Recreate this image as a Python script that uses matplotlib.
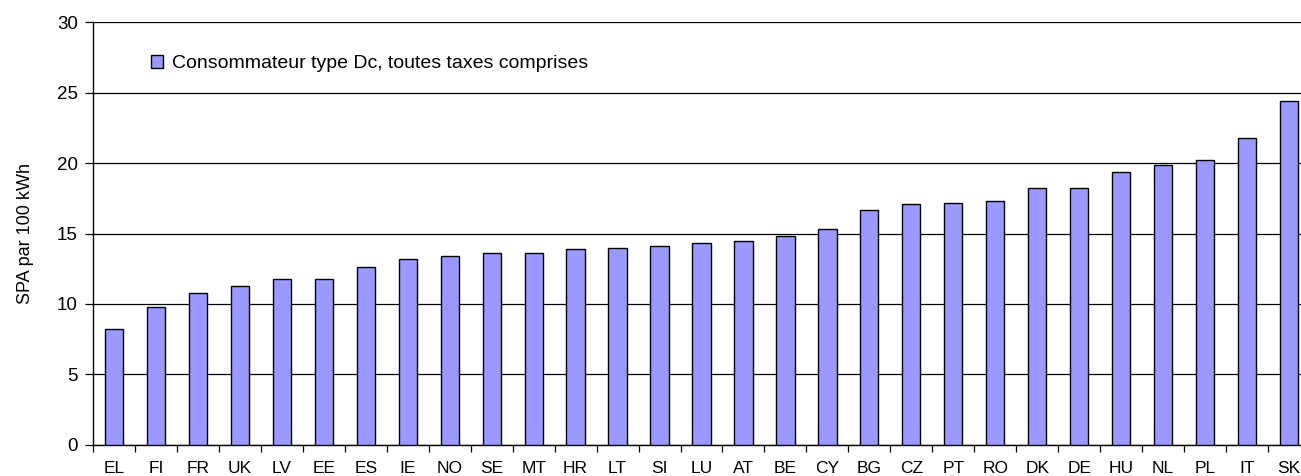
import matplotlib
matplotlib.use("Agg")
import matplotlib.pyplot as plt
import numpy as np

plt.rcParams['font.family'] = ['Liberation Sans', 'DejaVu Sans']

countries = ["EL", "FI", "FR", "UK", "LV", "EE", "ES", "IE", "NO", "SE", "MT", "HR", "LT", "SI",
             "LU", "AT", "BE", "CY", "BG", "CZ", "PT", "RO", "DK", "DE", "HU", "NL", "PL", "IT", "SK"]
values = [8.2, 9.8, 10.8, 11.3, 11.8, 11.8, 12.6, 13.2, 13.4, 13.6, 13.6, 13.9, 14.0, 14.1,
          14.3, 14.5, 14.8, 15.3, 16.7, 17.1, 17.2, 17.3, 18.2, 18.2, 19.4, 19.9, 20.2, 21.8, 24.4]
series_label = "Consommateur type Dc, toutes taxes comprises"
y_label = "SPA par 100 kWh"
y_ticks = [0, 5, 10, 15, 20, 25, 30]

W, H = 1301, 476
fig = plt.figure(figsize=(W / 100, H / 100), dpi=100)
ax = fig.add_axes([93 / W, 31.3 / H, 1217 / W, 422.4 / H])

x = np.arange(len(countries))
ax.bar(x, values, width=0.435, color="#9999ff", edgecolor="black", linewidth=1.0,
       label=series_label, zorder=3)

ax.set_xlim(-0.5, len(countries) - 0.5)
ax.set_ylim(0, 30)
ax.set_yticks(y_ticks)
ax.set_yticklabels([str(t) for t in y_ticks], fontsize=13.5)
ax.yaxis.grid(True, color="black", linewidth=0.9, zorder=0)
ax.set_axisbelow(True)

ax.set_xticks(x)
ax.set_xticklabels(countries, fontsize=12.5)
ax.tick_params(axis="x", length=0, pad=12)
ax.set_xticks(np.arange(len(countries) + 1) - 0.5, minor=True)
ax.tick_params(axis="x", which="minor", length=5, width=0.9, direction="out")
ax.tick_params(axis="y", length=6, width=0.9, direction="out", pad=5)

for s in ["top", "right"]:
    ax.spines[s].set_visible(False)
ax.spines["left"].set_linewidth(1.0)
ax.spines["bottom"].set_linewidth(1.0)

ax.set_ylabel(y_label, fontsize=13, labelpad=16)

leg = ax.legend(loc="upper left", bbox_to_anchor=(0.0415, 0.94), frameon=False,
                fontsize=14, handlelength=0.6, handleheight=0.6, handletextpad=0.45,
                borderaxespad=0)

fig.savefig("out.png", dpi=100)
